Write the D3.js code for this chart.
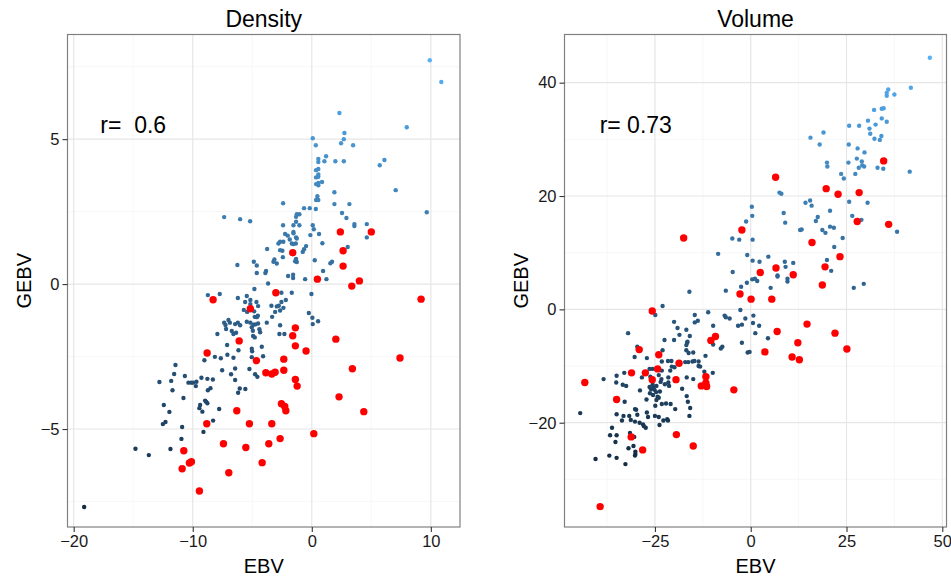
<!DOCTYPE html>
<html>
<head>
<meta charset="utf-8">
<script src="https://cdn.jsdelivr.net/npm/d3@7"></script>
<style>
  body { margin: 0; background: #fff; }
  text { font-family: "Liberation Sans", Arial, sans-serif; }
</style>
</head>
<body>
<svg id="chart" width="951" height="576"></svg>
<script>
// ---- Density: [EBV, GEBV] for all individuals and for the highlighted ones
const densityAll = [
  [9.91,7.72],[10.88,6.97],[2.32,5.90],[7.98,5.41],[2.74,5.21],[2.69,5.00],[0.08,5.03],[2.46,4.86],[3.47,4.79],[0.34,4.79],
  [1.20,4.41],[0.55,4.32],[0.55,4.21],[1.06,4.24],[1.98,4.24],[2.69,4.24],[6.10,4.28],[5.71,4.10],[0.55,3.97],[0.36,3.93],
  [0.55,3.78],[0.36,3.68],[0.55,3.70],[7.05,3.24],[9.66,2.48],
  [0.36,3.45],[0.55,3.41],[0.86,3.52],[0.55,3.49],[1.90,3.17],[0.47,3.03],[0.36,2.90],[0.55,2.90],[-2.41,2.79],[1.90,2.76],
  [3.16,2.76],[-0.65,2.62],[-0.17,2.62],[0.34,2.59],[2.54,2.45],[-1.26,2.41],[-1.04,2.41],[-1.32,2.32],[-1.32,2.15],[2.91,2.28],
  [-2.41,2.03],[-1.54,2.03],[-1.04,2.03],[0.08,2.03],[3.58,2.07],[3.58,2.00],[4.62,2.07],[0.17,1.89],[-2.24,1.73],[-2.02,1.67],
  [-1.54,1.80],[-1.54,1.75],[-0.12,1.69],[0.61,1.73],[-1.32,1.61],[4.62,1.61],
  [-7.36,2.31],[-6.02,2.24],[-5.18,2.17],
  [-2.80,1.40],[-2.66,1.46],[-2.39,1.46],[-1.85,1.54],[-1.68,1.40],[-1.54,1.38],[-1.34,1.40],[-1.26,1.57],
  [-3.75,1.21],[-2.47,1.15],[-2.66,1.17],[-0.76,1.11],[-0.65,1.20],[-0.48,1.31],[0.89,1.41],[3.02,1.28],[-2.43,0.93],[-3.14,0.85],
  [-3.22,0.77],[-2.94,0.71],[-4.87,0.77],[-4.62,0.64],[-6.25,0.66],[-1.40,0.79],[-1.32,0.87],[-1.26,0.76],[0.25,0.82],[1.56,0.72],
  [1.70,0.77],[0.95,0.45],[-3.84,0.45],[-3.90,0.38],[-4.62,0.38],[-1.99,0.28],[-1.57,0.32],[-1.57,0.21],[-0.56,0.17],[1.23,0.17],
  [-3.67,0.02],[-4.82,-0.17],[-7.73,-0.34],[-8.73,-0.38],[-2.55,-0.30],[-1.68,-0.30],[-0.03,-0.34],[-6.21,-0.48],[-5.46,-0.41],[-5.16,-0.55],
  [-5.60,-0.62],[-5.16,-0.69],[-4.65,-0.62],[-3.39,-0.75],[-2.94,-0.77],[-2.77,-0.75],[-2.55,-0.62],[-2.18,-0.55],[-5.71,-0.89],[-5.43,-0.96],
  [-4.84,-0.94],[-4.51,-0.76],[-4.79,-1.13],[-4.62,-1.14],[-4.53,-1.09],[-3.33,-1.13],[-3.08,-0.96],[-2.38,-0.82],[-2.66,-0.91],[-3.78,-1.33],
  [-4.51,-1.36],[-4.76,-1.39],[-4.90,-1.40],[-5.46,-1.30],[-5.16,-1.33],[-6.21,-1.33],[-6.44,-1.38],[-6.02,-1.42],[-7.00,-1.24],[-7.36,-1.33],
  [-7.25,-1.41],[-6.88,-1.33],[-7.20,-1.55],[-6.72,-1.62],[-6.58,-1.72],[-6.36,-1.68],[-7.93,-1.72],[-5.04,-1.49],[-4.95,-1.61],[-4.34,-1.66],
  [-4.40,-1.56],[-2.66,-1.42],[-2.72,-1.72],[-2.30,-1.72],[-0.25,-1.00],[0.05,-1.16],[0.53,-1.28],[0.08,-1.38],[-4.93,-1.79],[-4.79,-1.84],
  [-7.11,-2.10],[-6.16,-2.28],[-5.04,-2.23],[-5.01,-2.32],[-4.20,-2.16],[-8.14,-2.51],[-7.64,-2.56],[-7.09,-2.44],[-6.58,-2.54],[-9.02,-2.63],
  [-5.04,-2.52],[-4.09,-2.49],[-11.45,-2.79],[-7.53,-2.97],[-6.44,-2.91],[-5.24,-2.93],[-11.56,-3.10],[-10.66,-3.17],[-9.27,-3.23],[-8.77,-3.27],
  [-8.31,-3.29],[-6.78,-3.11],[-4.76,-3.11],[-4.57,-3.20],
  [-12.80,-3.38],[-11.81,-3.34],[-11.70,-3.66],[-10.36,-3.40],[-10.13,-3.40],[-9.97,-3.40],[-9.74,-3.52],[-9.69,-3.37],[-8.73,-3.66],[-8.51,-3.59],
  [-10.78,-3.93],[-8.96,-4.02],[-8.77,-4.11],[-8.88,-4.06],[-9.38,-4.17],[-9.44,-4.28],[-9.19,-4.40],[-12.43,-4.17],[-11.96,-4.41],[-7.78,-4.31],
  [-6.19,-3.75],[-6.05,-3.60],[-5.58,-3.62],[-6.44,-3.31],[-12.51,-4.83],[-12.29,-4.76],[-10.89,-4.93],[-8.29,-4.71],[-9.10,-5.10],[-10.95,-5.34],
  [-11.87,-5.69],[-14.81,-5.68],[-13.69,-5.90],[-19.12,-7.69]
];
const densityHighlight = [
  [-8.29,-0.54],[-5.16,-0.85],[-3.02,-0.30],[-1.60,1.08],[0.47,0.17],[2.40,1.80],[5.00,1.80],[2.63,1.15],[2.63,0.62],[4.00,0.11],
  [3.36,-0.07],[9.18,-0.52],[7.41,-2.55],[3.41,-2.92],[2.02,-1.90],[-0.48,-2.31],[-1.38,-1.51],[-1.60,-1.78],[-1.38,-2.13],[-6.10,-1.96],
  [-8.79,-2.38],[-4.65,-2.64],[-2.35,-2.59],[-3.86,-3.06],[-3.36,-3.10],[-3.08,-3.04],[-2.35,-2.97],[-1.38,-3.29],[-1.23,-3.52],[2.29,-3.89],
  [4.37,-4.40],[-2.55,-4.13],[-2.27,-4.22],[-2.18,-4.37],[-6.30,-4.37],[-5.24,-4.82],[-3.36,-4.82],[-8.82,-4.82],[0.17,-5.16],[-2.66,-5.33],
  [-7.42,-5.51],[-3.61,-5.51],[-5.54,-5.64],[-10.75,-5.75],[-4.17,-6.16],[-10.11,-6.13],[-10.28,-6.17],[-10.89,-6.37],[-6.97,-6.51],[-9.44,-7.14]
];

// ---- Volume: [EBV, GEBV]
const volumeAll = [
  [46.75,44.4],[41.8,39.1],[35.9,38.8],[35.5,38.2],[35.5,37.7],[37.5,37.9],[32.2,35.2],[34.2,35.4],[34.7,35.5],[30.6,33.3],
  [32.6,32.6],[34.2,33.7],[35.5,33.1],[25.7,32.4],[28.3,32.4],[31.0,31.9],[31.2,31.0],[32.3,30.1],[33.7,29.9],[34.1,30.6],
  [19.0,31.2],[15.6,30.3],[18.0,29.1],[25.6,29.1],[27.9,28.4],[29.7,27.7],[27.7,26.6],[29.0,26.1],[29.6,25.2],[28.2,25.0],
  [29.1,25.4],[25.5,25.9],[19.9,25.9],[20.0,25.2],[23.6,23.9],[24.3,23.1],[27.3,23.9],[33.1,25.0],[34.6,24.8],[41.5,24.3],
  [7.5,20.6],[8.0,20.4],[14.3,18.8],[15.5,19.2],[15.9,18.3],[25.7,19.0],[30.5,18.8],[0.3,18.1],[0.4,16.5],[-1.2,15.5],
  [8.6,17.0],[9.0,15.3],[17.5,16.3],[17.0,15.6],[20.7,17.4],[26.5,16.5],[28.9,15.8],[12.9,14.0],[13.3,14.1],[18.7,14.0],
  [19.5,13.5],[20.7,14.6],[21.7,14.4],[38.2,13.7],[0.5,12.3],[24.0,12.6],[21.8,11.0],[-0.9,9.6],[0.5,8.6],[2.3,8.4],
  [4.6,9.3],[8.9,8.4],[11.1,8.2],[9.1,7.5],[19.9,8.7],[21.0,6.8],[7.0,6.0],[7.0,5.8],[0.4,5.3],[1.1,5.4],
  [1.7,5.0],[-1.0,4.7],[9.6,5.4],[9.6,4.9],[-2.5,4.0],[5.2,3.8],[26.9,3.8],[29.5,4.5],
  [-4.8,12.5],[-3.0,12.3],[-8.5,9.8],[-4.7,6.6],[-16.0,3.1],[-6.5,3.3],[-23.0,0.6],[-24.9,-1.0],[-14.6,-1.0],[-11.1,-0.5],
  [-6.8,-1.1],[-6.5,-1.4],[-5.5,-1.6],[-2.7,-0.1],[-1.4,-1.6],[0.7,-1.1],
  [0.6,-2.4],[1.2,-4.2],[2.2,-2.9],[4.5,-5.1],[-3.3,-2.9],[-2.3,-2.7],[-14.6,-2.3],[-13.8,-2.0],[-20.0,-2.2],[-9.8,-2.9],
  [-19.1,-3.3],[-16.8,-3.6],[-32.0,-4.2],[-18.6,-4.5],[-15.9,-4.7],[-22.5,-5.4],[-20.0,-5.4],[-9.8,-6.2],[-7.8,-6.9],[-7.4,-6.6],
  [-2.3,-5.9],[-16.6,-5.9],[-16.8,-6.3],[-16.5,-5.7],[-23.0,-7.2],[-29.6,-6.6],[-16.8,-7.2],[-16.2,-7.7],[-15.0,-7.6],[-11.8,-8.2],
  [-0.8,-7.6],[-0.3,-7.5],[-30.3,-8.4],[-27.1,-8.6],[-23.2,-9.2],[-21.6,-9.1],[-20.7,-9.1],[-17.1,-9.3],[-16.3,-9.3],[-15.2,-9.2],
  [-14.7,-9.1],[-13.6,-9.2],[-13.6,-10.0],[-13.2,-10.1],[-20.6,-10.1],[-19.9,-10.2],[-21.0,-10.8],[-23.2,-10.8],[-26.4,-10.5],[-25.6,-10.5],
  [-33.0,-11.2],[-35.0,-11.7],[-28.4,-12.0],[-26.2,-11.9],[-21.5,-12.0],[-23.3,-12.3],[-24.0,-11.6],[-16.7,-12.0],[-15.0,-12.3],[-12.1,-11.0],
  [-9.9,-11.2],[-38.4,-12.3],[-35.1,-12.9],[-32.5,-13.5],[-33.4,-13.3],[-28.9,-14.3],[-26.4,-13.7],[-26.0,-14.1],[-25.4,-13.7],[-25.1,-14.2],
  [-25.6,-13.3],[-24.6,-13.5],[-26.3,-14.8],[-24.7,-14.6],[-25.5,-15.1],[-24.3,-15.4],[-23.7,-14.5],[-23.5,-12.8],[-22.4,-13.2],[-21.5,-12.9],
  [-21.3,-13.5],[-17.9,-14.0],[-16.7,-15.3],[-16.4,-16.3],[-15.8,-17.4],[-16.0,-18.8],[-32.9,-16.3],[-27.2,-15.9],[-23.2,-16.7],[-22.1,-16.6],
  [-20.9,-16.7],[-19.7,-17.6],[-24.9,-17.0],[-24.6,-16.0],[-24.0,-15.6],[-29.9,-17.7],[-30.2,-17.6],[-35.0,-18.5],[-33.2,-18.8],[-31.7,-18.8],
  [-29.6,-18.6],[-27.1,-18.2],[-26.8,-19.0],[-25.0,-18.8],[-24.0,-19.0],[-33.6,-19.6],[-31.3,-19.5],[-30.2,-19.8],[-29.0,-20.0],[-28.1,-20.3],
  [-27.4,-20.9],[-27.9,-20.6],[-23.8,-20.4],[-22.8,-19.6],[-21.8,-19.4],[-21.6,-19.6],[-36.2,-20.9],[-36.7,-22.2],[-35.0,-22.2],[-35.3,-23.4],
  [-31.5,-21.8],[-30.4,-22.5],[-30.6,-24.1],[-31.9,-24.5],[-30.1,-25.5],[-30.2,-25.8],[-30.1,-25.1],[-36.9,-25.8],[-35.0,-26.2],[-40.5,-26.4],
  [-32.7,-27.3],[-44.5,-18.3]
];
const volumeHighlight = [
  [6.5,23.3],[19.7,21.3],[22.8,20.3],[28.3,20.6],[34.7,26.2],[27.8,15.5],[36.0,15.0],[-2.3,14.0],[16.0,11.8],[23.3,9.3],
  [19.4,7.5],[6.6,7.3],[2.5,6.5],[11.1,6.1],[18.7,4.3],[-2.8,2.7],[0.1,1.8],[5.5,1.8],[-17.5,12.6],[-25.7,-0.3],
  [14.7,-2.6],[6.9,-3.9],[12.3,-5.9],[3.7,-7.5],[10.8,-8.4],[12.7,-8.9],[-10.4,-5.5],[-9.2,-4.8],[-29.1,-7.1],[-24.0,-8.0],
  [-18.7,-9.5],[-31.1,-11.2],[-27.5,-11.2],[-24.3,-10.5],[-25.7,-12.4],[-19.5,-12.4],[-11.7,-11.9],[-11.7,-13.0],[-12.9,-13.5],[-11.5,-13.6],
  [-4.4,-14.2],[-43.3,-12.9],[-35.0,-15.9],[-31.2,-22.5],[-19.4,-22.1],[-15.0,-24.1],[-28.2,-24.8],[-39.3,-34.8],[22.0,-4.2],[25.1,-7.0]
];

// ---- axis breaks and annotations
const densityXTicks = [-20, -10, 0, 10];
const densityXMinor = [-15, -5, 5];
const densityYTicks = [-5, 0, 5];
const densityYMinor = [-7.5, -2.5, 2.5, 7.5];
const volumeXTicks = [-25, 0, 25, 50];
const volumeXMinor = [-37.5, -12.5, 12.5, 37.5];
const volumeYTicks = [-20, 0, 20, 40];
const volumeYMinor = [-30, -10, 10, 30];
const titles = ["Density", "Volume"];
const corrLabels = ["r=  0.6", "r= 0.73"];

const svg = d3.select("#chart");
const minus = s => String(s).replace("-", "\u2212");

function drawPanel(cfg) {
  const x = d3.scaleLinear().domain(cfg.xDomain).range([cfg.left, cfg.right]);
  const y = d3.scaleLinear().domain(cfg.yDomain).range([cfg.bottom, cfg.top]);
  const g = svg.append("g");

  // minor then major grid
  g.append("g").selectAll("line").data(cfg.xMinor).join("line")
    .attr("x1", d => x(d)).attr("x2", d => x(d)).attr("y1", cfg.top).attr("y2", cfg.bottom)
    .attr("stroke", "#f3f3f3").attr("stroke-width", 0.7);
  g.append("g").selectAll("line").data(cfg.yMinor).join("line")
    .attr("y1", d => y(d)).attr("y2", d => y(d)).attr("x1", cfg.left).attr("x2", cfg.right)
    .attr("stroke", "#f3f3f3").attr("stroke-width", 0.7);
  g.append("g").selectAll("line").data(cfg.xTicks).join("line")
    .attr("x1", d => x(d)).attr("x2", d => x(d)).attr("y1", cfg.top).attr("y2", cfg.bottom)
    .attr("stroke", "#e6e6e6").attr("stroke-width", 1.2);
  g.append("g").selectAll("line").data(cfg.yTicks).join("line")
    .attr("y1", d => y(d)).attr("y2", d => y(d)).attr("x1", cfg.left).attr("x2", cfg.right)
    .attr("stroke", "#e6e6e6").attr("stroke-width", 1.2);

  // points coloured by GEBV on a dark-to-light blue gradient
  const ext = d3.extent(cfg.all, d => d[1]);
  const col = d3.scaleLinear().domain(ext).range(["#132B43", "#56B1F7"]).interpolate(d3.interpolateLab);
  g.append("g").selectAll("circle").data(cfg.all).join("circle")
    .attr("cx", d => x(d[0])).attr("cy", d => y(d[1])).attr("r", 2.2)
    .attr("fill", d => col(d[1]));
  g.append("g").selectAll("circle").data(cfg.highlight).join("circle")
    .attr("cx", d => x(d[0])).attr("cy", d => y(d[1])).attr("r", 3.7)
    .attr("fill", "#ff0000");

  // correlation label
  g.append("text").attr("x", x(cfg.rAt[0])).attr("y", y(cfg.rAt[1]))
    .attr("text-anchor", "middle").attr("dominant-baseline", "central")
    .attr("font-size", 23).attr("fill", "#000").style("white-space", "pre")
    .attr("xml:space", "preserve").text(cfg.rText);

  // panel border
  g.append("rect").attr("x", cfg.left).attr("y", cfg.top)
    .attr("width", cfg.right - cfg.left).attr("height", cfg.bottom - cfg.top)
    .attr("fill", "none").attr("stroke", "#808080").attr("stroke-width", 1.2);

  // axes
  const xAxis = d3.axisBottom(x).tickValues(cfg.xTicks).tickSize(5).tickPadding(3).tickFormat(minus);
  const yAxis = d3.axisLeft(y).tickValues(cfg.yTicks).tickSize(5).tickPadding(3).tickFormat(minus);
  const xa = svg.append("g").attr("transform", `translate(0,${cfg.bottom})`).call(xAxis);
  const ya = svg.append("g").attr("transform", `translate(${cfg.left},0)`).call(yAxis);
  [xa, ya].forEach(a => {
    a.select(".domain").remove();
    a.selectAll(".tick line").attr("stroke", "#333").attr("stroke-width", 1.1);
    a.selectAll(".tick text").attr("font-size", 16.5).attr("fill", "#1a1a1a")
      .attr("font-family", "Liberation Sans, Arial, sans-serif");
  });

  // titles
  svg.append("text").attr("x", (cfg.left + cfg.right) / 2).attr("y", 27)
    .attr("text-anchor", "middle").attr("font-size", 23).attr("fill", "#000").text(cfg.title);
  svg.append("text").attr("x", (cfg.left + cfg.right) / 2).attr("y", 573)
    .attr("text-anchor", "middle").attr("font-size", 20).attr("fill", "#000").text("EBV");
  svg.append("text")
    .attr("transform", `translate(${cfg.left - 37},${(cfg.top + cfg.bottom) / 2}) rotate(-90)`)
    .attr("text-anchor", "middle").attr("font-size", 20).attr("fill", "#000").text("GEBV");
}

drawPanel({
  left: 67.5, right: 460, top: 34.5, bottom: 527,
  xDomain: [-20.52, 12.45], yDomain: [-8.38, 8.61],
  xTicks: densityXTicks, xMinor: densityXMinor, yTicks: densityYTicks, yMinor: densityYMinor,
  all: densityAll, highlight: densityHighlight,
  title: titles[0], rText: corrLabels[0], rAt: [-15, 5.5]
});
drawPanel({
  left: 564.5, right: 946.5, top: 34.5, bottom: 527,
  xDomain: [-48.6, 51.1], yDomain: [-38.4, 48.5],
  xTicks: volumeXTicks, xMinor: volumeXMinor, yTicks: volumeYTicks, yMinor: volumeYMinor,
  all: volumeAll, highlight: volumeHighlight,
  title: titles[1], rText: corrLabels[1], rAt: [-30, 32.5]
});
</script>
</body>
</html>
